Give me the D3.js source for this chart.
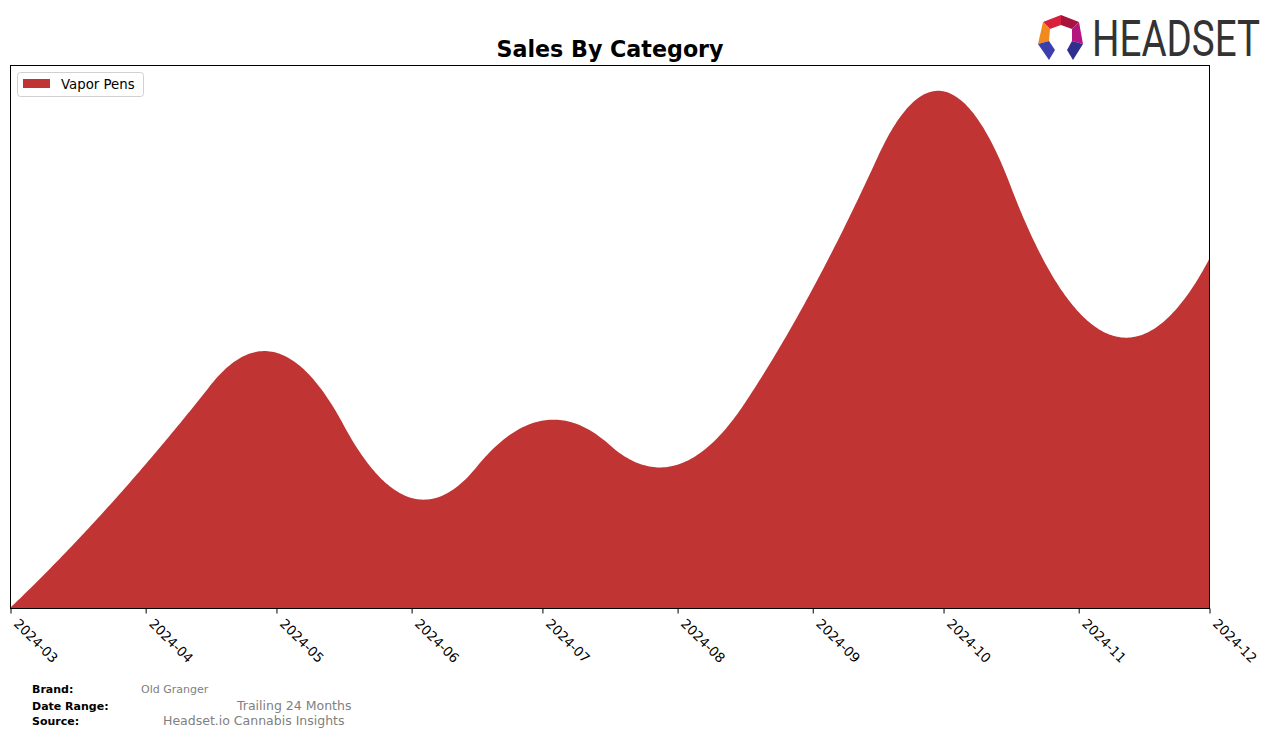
<!DOCTYPE html>
<html>
<head>
<meta charset="utf-8">
<script src="https://cdn.jsdelivr.net/npm/d3@7/dist/d3.min.js"></script>
<style>
  html, body { margin: 0; padding: 0; background: #fff; }
  svg { display: block; font-family: "DejaVu Sans", sans-serif; }
</style>
</head>
<body>
<svg id="chart" width="1276" height="738"></svg>
<script>
// ---- Data ----
const months = ["2024-03","2024-04","2024-05","2024-06","2024-07","2024-08","2024-09","2024-10","2024-11","2024-12"];
const vaporPens = [0, 143, 255, 110, 187, 143, 318, 516, 296, 348];
const tickLabels = ["2024-03","2024-04","2024-05","2024-06","2024-07","2024-08","2024-09","2024-10","2024-11","2024-12"];
const seriesName = "Vapor Pens";
const seriesColor = "#c13434";

// ---- Layout ----
const svg = d3.select("#chart");
const L = 10, R = 1209, T = 65, B = 608;
const parse = d3.utcParse("%Y-%m");
const dates = months.map(parse);

const x = d3.scaleUtc().domain([dates[0], dates[dates.length - 1]]).range([L, R]);

// ---- Quadratic interpolating spline (knots at midpoints, like scipy make_interp_spline k=2) ----
const DAY = 86400000;
const xs = dates.map(d => d.getTime() / DAY);
const n = xs.length, k = 2;
const mids = [];
for (let i = 0; i < n - 1; i++) mids.push((xs[i] + xs[i + 1]) / 2);
const knots = [xs[0], xs[0], xs[0], ...mids.slice(1, -1), xs[n - 1], xs[n - 1], xs[n - 1]];
const tEnd = xs[n - 1];
function basis(i, deg, xv) {
  if (deg === 0) {
    return (knots[i] <= xv && xv < knots[i + 1]) ? 1 : 0;
  }
  let a = 0, b = 0;
  const d1 = knots[i + deg] - knots[i];
  const d2 = knots[i + deg + 1] - knots[i + 1];
  if (d1 > 0) a = (xv - knots[i]) / d1 * basis(i, deg - 1, xv);
  if (d2 > 0) b = (knots[i + deg + 1] - xv) / d2 * basis(i + 1, deg - 1, xv);
  return a + b;
}
function clampX(v) { return Math.min(v, tEnd - 1e-7); }
const A = xs.map(xv => d3.range(n).map(i => basis(i, k, clampX(xv))));
const rhs = vaporPens.slice();
(function solve() {
  for (let c = 0; c < n; c++) {
    let p = c;
    for (let r = c + 1; r < n; r++) if (Math.abs(A[r][c]) > Math.abs(A[p][c])) p = r;
    [A[c], A[p]] = [A[p], A[c]]; [rhs[c], rhs[p]] = [rhs[p], rhs[c]];
    for (let r = c + 1; r < n; r++) {
      const f = A[r][c] / A[c][c];
      for (let j = c; j < n; j++) A[r][j] -= f * A[c][j];
      rhs[r] -= f * rhs[c];
    }
  }
  for (let c = n - 1; c >= 0; c--) {
    let s = rhs[c];
    for (let j = c + 1; j < n; j++) s -= A[c][j] * rhs[j];
    rhs[c] = s / A[c][c];
  }
})();
const coef = rhs;
function spline(xv) {
  const xc = clampX(xv);
  let s = 0;
  for (let i = 0; i < n; i++) s += coef[i] * basis(i, k, xc);
  return s;
}
const dense = d3.range(0, 601).map(j => {
  const xv = xs[0] + (tEnd - xs[0]) * j / 600;
  return { date: new Date(xv * DAY), value: spline(xv) };
});

const yMax = d3.max(dense, d => d.value) * 1.05;
const y = d3.scaleLinear().domain([0, yMax]).range([B, T]);

// ---- Area ----
const area = d3.area()
  .x(d => x(d.date))
  .y0(y(0))
  .y1(d => y(Math.max(0, d.value)))
  .curve(d3.curveLinear);

svg.append("path")
  .datum(dense)
  .attr("d", area)
  .attr("fill", seriesColor);

// ---- Frame ----
svg.append("rect")
  .attr("x", L + 0.5).attr("y", T + 0.5)
  .attr("width", R - L).attr("height", B - T)
  .attr("fill", "none").attr("stroke", "#000").attr("stroke-width", 1);

// ---- X axis ----
const xAxis = d3.axisBottom(x)
  .tickValues(dates)
  .tickFormat((d, i) => tickLabels[i])
  .tickSize(5)
  .tickPadding(0);
const gx = svg.append("g")
  .attr("transform", `translate(0.5,${B + 0.5})`)
  .call(xAxis);
gx.select(".domain").remove();
gx.selectAll(".tick line").attr("stroke", "#000");
gx.selectAll(".tick text")
  .attr("font-family", "DejaVu Sans, sans-serif")
  .attr("font-size", "13.3px")
  .attr("fill", "#000")
  .attr("text-anchor", "start")
  .attr("dy", null)
  .attr("y", null)
  .attr("transform", "translate(2,16) rotate(45)");

// ---- Title ----
svg.append("text")
  .attr("x", 610).attr("y", 57)
  .attr("text-anchor", "middle")
  .attr("font-family", "DejaVu Sans, sans-serif")
  .attr("font-weight", "bold")
  .attr("font-size", "22.2px")
  .text("Sales By Category");

// ---- Legend ----
const lg = svg.append("g");
lg.append("rect")
  .attr("x", 17.5).attr("y", 72.5).attr("width", 126).attr("height", 24)
  .attr("rx", 3).attr("fill", "#fff").attr("stroke", "#d0d0d0");
lg.append("rect")
  .attr("x", 23).attr("y", 79).attr("width", 27).attr("height", 9)
  .attr("fill", seriesColor);
lg.append("text")
  .attr("x", 61).attr("y", 89)
  .attr("font-size", "13.3px")
  .attr("fill", "#000")
  .text(seriesName);

// ---- Footer ----
const foot = [
  { label: "Brand:", lx: 32, ly: 693, value: "Old Granger", vx: 141, vsize: "11px" },
  { label: "Date Range:", lx: 32, ly: 710, value: "Trailing 24 Months", vx: 237, vsize: "12.5px" },
  { label: "Source:", lx: 32, ly: 725, value: "Headset.io Cannabis Insights", vx: 163, vsize: "12.5px" }
];
foot.forEach(f => {
  svg.append("text").attr("x", f.lx).attr("y", f.ly)
    .attr("font-size", "11px").attr("font-weight", "bold").attr("fill", "#000").text(f.label);
  svg.append("text").attr("x", f.vx).attr("y", f.ly)
    .attr("font-size", f.vsize).attr("fill", "#808080").text(f.value);
});

// ---- Logo ----
const logo = svg.append("g");
const facets = [
  { pts: [[1043,22],[1061,15],[1061,25],[1050,29]], c: "#d8203a" },
  { pts: [[1061,15],[1079,22],[1072,29],[1061,25]], c: "#a8123e" },
  { pts: [[1043,22],[1050,29],[1049,41],[1038,44]], c: "#f08a1e" },
  { pts: [[1079,22],[1083,44],[1072,41],[1072,29]], c: "#b5157e" },
  { pts: [[1038,44],[1049,41],[1055,50],[1049,60]], c: "#3b3fae" },
  { pts: [[1083,44],[1072,41],[1067,50],[1073,60]], c: "#2e2f8e" }
];
facets.forEach(f => {
  logo.append("polygon").attr("points", f.pts.map(p => p.join(",")).join(" ")).attr("fill", f.c);
});
logo.append("text")
  .attr("transform", "translate(1092,56) scale(1,1.33)")
  .attr("font-family", "Roboto, 'Open Sans', sans-serif")
  .attr("font-size", "38px")
  .attr("fill", "#333")
  .attr("textLength", 168)
  .attr("lengthAdjust", "spacingAndGlyphs")
  .text("HEADSET");
</script>
</body>
</html>
